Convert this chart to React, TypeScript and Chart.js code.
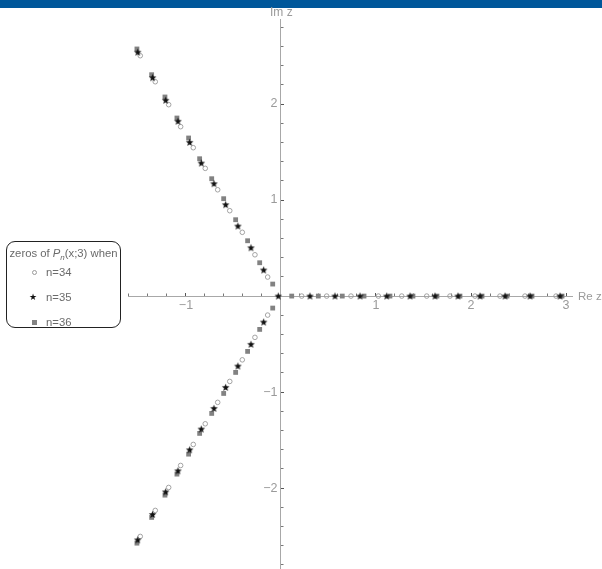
import React, { useEffect, useRef } from "react";
import { Chart, registerables } from "chart.js";

Chart.register(...registerables);

// ---------- data (complex zeros, in data units) ----------
// n = 34 (open circles)
const realZerosN34 = [0.218, 0.481, 0.737, 1.025, 1.271, 1.534, 1.779, 2.042, 2.305, 2.568, 2.895];
const upperReN34 = [-1.481, -1.323, -1.182, -1.056, -0.923, -0.797, -0.666, -0.539, -0.407, -0.274, -0.14];
const upperImN34 = [2.503, 2.232, 1.993, 1.764, 1.545, 1.33, 1.107, 0.889, 0.664, 0.43, 0.198];
const lowerReN34 = [-1.481, -1.323, -1.182, -1.056, -0.923, -0.797, -0.666, -0.539, -0.407, -0.274, -0.14];
const lowerImN34 = [-2.503, -2.232, -1.993, -1.764, -1.545, -1.33, -1.107, -0.889, -0.664, -0.43, -0.198];

// n = 35 (stars)
const realZerosN35 = [-0.028, 0.305, 0.568, 0.832, 1.113, 1.358, 1.621, 1.863, 2.095, 2.358, 2.621, 2.937];
const upperReN35 = [-1.508, -1.351, -1.214, -1.084, -0.961, -0.839, -0.705, -0.582, -0.453, -0.316, -0.182];
const upperImN35 = [2.539, 2.274, 2.039, 1.82, 1.601, 1.385, 1.17, 0.951, 0.729, 0.503, 0.271];
const lowerReN35 = [-1.508, -1.351, -1.214, -1.084, -0.961, -0.839, -0.705, -0.582, -0.453, -0.316, -0.182];
const lowerImN35 = [-2.539, -2.274, -2.039, -1.82, -1.601, -1.385, -1.17, -0.951, -0.729, -0.503, -0.271];

// n = 36 (filled squares)
const realZerosN36 = [0.113, 0.393, 0.645, 0.874, 1.147, 1.389, 1.642, 1.884, 2.116, 2.379, 2.642, 2.958];
const upperReN36 = [-1.516, -1.361, -1.221, -1.095, -0.972, -0.856, -0.729, -0.603, -0.477, -0.351, -0.224, -0.087];
const upperImN36 = [2.573, 2.305, 2.073, 1.854, 1.646, 1.43, 1.222, 1.014, 0.795, 0.576, 0.347, 0.125];
const lowerReN36 = [-1.516, -1.361, -1.221, -1.095, -0.972, -0.856, -0.729, -0.603, -0.477, -0.351, -0.224, -0.087];
const lowerImN36 = [-2.573, -2.305, -2.073, -1.854, -1.646, -1.43, -1.222, -1.014, -0.795, -0.576, -0.347, -0.125];

const seriesLabels = ["n=34", "n=35", "n=36"];
const legendTitle = "zeros of P_n(x;3) when";

// axis ranges
const X_MIN = -1.61;
const X_MAX = 3.063;
const Y_MIN = -2.84;
const Y_MAX = 2.88;
const MAJOR_STEP = 1;
const MINOR_STEP = 0.2;

const FONT = '"Liberation Sans", Arial, sans-serif';

function buildPoints(real: number[], uRe: number[], uIm: number[], lRe: number[], lIm: number[]) {
  const pts: { x: number; y: number }[] = [];
  real.forEach((x) => pts.push({ x, y: 0 }));
  uRe.forEach((x, i) => pts.push({ x, y: uIm[i] }));
  lRe.forEach((x, i) => pts.push({ x, y: lIm[i] }));
  return pts;
}

function makeStar(): HTMLCanvasElement {
  const c = document.createElement("canvas");
  c.width = 9;
  c.height = 9;
  const g = c.getContext("2d")!;
  g.fillStyle = "#111";
  g.beginPath();
  for (let i = 0; i < 10; i++) {
    const r = i % 2 === 0 ? 4.0 : 1.7;
    const a = -Math.PI / 2 + (i * Math.PI) / 5;
    const px = 4.5 + r * Math.cos(a);
    const py = 4.7 + r * Math.sin(a);
    if (i === 0) g.moveTo(px, py);
    else g.lineTo(px, py);
  }
  g.closePath();
  g.fill();
  return c;
}

const isInt = (v: number) => Math.abs(v - Math.round(v)) < 1e-6;
const fmt = (v: number) => (v < 0 ? "\u2212" + Math.abs(v) : String(v));

export default function App() {
  const ref = useRef<HTMLCanvasElement | null>(null);

  useEffect(() => {
    if (!ref.current) return;
    const star = makeStar();
    const transparent = "rgba(0,0,0,0)";
    const tickFont = { family: FONT, size: 12.5 };

    const chart = new Chart(ref.current, {
      type: "scatter",
      data: {
        datasets: [
          {
            label: seriesLabels[0],
            data: buildPoints(realZerosN34, upperReN34, upperImN34, lowerReN34, lowerImN34),
            pointStyle: "circle",
            pointRadius: 2.3,
            pointBackgroundColor: "rgba(255,255,255,0)",
            pointBorderColor: "#9a9a9a",
            pointBorderWidth: 0.9,
            order: 1,
            clip: false,
          },
          {
            label: seriesLabels[1],
            data: buildPoints(realZerosN35, upperReN35, upperImN35, lowerReN35, lowerImN35),
            pointStyle: star as any,
            pointRadius: 4,
            order: 0,
            clip: false,
          },
          {
            label: seriesLabels[2],
            data: buildPoints(realZerosN36, upperReN36, upperImN36, lowerReN36, lowerImN36),
            pointStyle: "rect",
            pointRadius: 3.4,
            pointBackgroundColor: "#828282",
            pointBorderWidth: 0,
            order: 2,
            clip: false,
          },
        ],
      },
      options: {
        animation: false,
        responsive: true,
        maintainAspectRatio: false,
        events: [],
        layout: { padding: { left: 128, right: 30, top: 19.5, bottom: 0 } },
        plugins: { legend: { display: false }, tooltip: { enabled: false } },
        scales: {
          x: {
            type: "linear",
            min: X_MIN,
            max: X_MAX,
            position: { y: 0 } as any,
            afterFit: (s: any) => {
              s.height = 0;
            },
            border: { display: true, color: "#a8a8a8", width: 1 },
            grid: {
              drawOnChartArea: false,
              drawTicks: true,
              tickLength: -4,
              tickWidth: 1,
              tickColor: (ctx: any) => (ctx.tick && ctx.tick.value === 0 ? transparent : "#555"),
            },
            ticks: {
              stepSize: MAJOR_STEP,
              includeBounds: false,
              autoSkip: false,
              maxRotation: 0,
              padding: 6,
              color: "#9a9a9a",
              font: tickFont,
              callback: (v: any) => (Number(v) === 0 ? "" : fmt(Number(v))),
            },
          },
          xMinor: {
            type: "linear",
            axis: "x",
            min: X_MIN,
            max: X_MAX,
            position: { y: 0 } as any,
            afterFit: (s: any) => {
              s.height = 0;
            },
            border: { display: false },
            grid: {
              drawOnChartArea: false,
              drawTicks: true,
              tickLength: -2.5,
              tickWidth: 1,
              tickColor: (ctx: any) => (ctx.tick && isInt(ctx.tick.value) ? transparent : "#777"),
            },
            ticks: {
              stepSize: MINOR_STEP,
              includeBounds: false,
              autoSkip: false,
              maxRotation: 0,
              callback: () => "",
            },
          } as any,
          y: {
            type: "linear",
            min: Y_MIN,
            max: Y_MAX,
            position: { x: 0 } as any,
            afterFit: (s: any) => {
              s.width = 0;
            },
            border: { display: true, color: "#a8a8a8", width: 1 },
            grid: {
              drawOnChartArea: false,
              drawTicks: true,
              tickLength: -4,
              tickWidth: 1,
              tickColor: (ctx: any) => (ctx.tick && ctx.tick.value === 0 ? transparent : "#555"),
            },
            ticks: {
              stepSize: MAJOR_STEP,
              includeBounds: false,
              autoSkip: false,
              padding: 0,
              color: "#9a9a9a",
              font: tickFont,
              callback: (v: any) => (Number(v) === 0 ? "" : fmt(Number(v)) + " "),
            },
          },
          yMinor: {
            type: "linear",
            axis: "y",
            min: Y_MIN,
            max: Y_MAX,
            position: { x: 0 } as any,
            afterFit: (s: any) => {
              s.width = 0;
            },
            border: { display: false },
            grid: {
              drawOnChartArea: false,
              drawTicks: true,
              tickLength: -2.5,
              tickWidth: 1,
              tickColor: (ctx: any) => (ctx.tick && isInt(ctx.tick.value) ? transparent : "#777"),
            },
            ticks: {
              stepSize: MINOR_STEP,
              includeBounds: false,
              autoSkip: false,
              callback: () => "",
            },
          } as any,
        },
      } as any,
    });
    return () => chart.destroy();
  }, []);

  const [titleA, titleRest] = legendTitle.split("P_n");

  const rowStyle = (top: number): React.CSSProperties => ({
    position: "absolute",
    left: 0,
    top: top - 7,
    height: 14,
    width: "100%",
  });
  const labelStyle: React.CSSProperties = {
    position: "absolute",
    left: 39,
    top: 0,
    lineHeight: "14px",
  };

  return (
    <div style={{ position: "fixed", left: 0, top: 0, width: 602, height: 569, background: "#fff", overflow: "hidden" }}>
      <div style={{ position: "absolute", left: 0, top: 0, width: 602, height: 579 }}>
        <canvas ref={ref} />
      </div>
      <div style={{ position: "absolute", left: 0, top: 0, width: 602, height: 7.5, background: "#00579a" }} />
      <div
        style={{
          position: "absolute",
          left: 578,
          top: 289,
          fontFamily: FONT,
          fontSize: 11.5,
          color: "#9a9a9a",
          lineHeight: "14px",
          whiteSpace: "nowrap",
        }}
      >
        Re z
      </div>
      <div
        style={{
          position: "absolute",
          left: 270,
          top: 5,
          fontFamily: FONT,
          fontSize: 12,
          color: "#9a9a9a",
          lineHeight: "14px",
          whiteSpace: "nowrap",
        }}
      >
        Im z
      </div>
      <div
        style={{
          position: "absolute",
          left: 6,
          top: 241,
          width: 115,
          height: 87,
          boxSizing: "border-box",
          border: "1px solid #222",
          borderRadius: 9,
          background: "#fff",
          fontFamily: FONT,
          fontSize: 11.3,
          color: "#6a6a6a",
        }}
      >
        <div
          style={{
            position: "absolute",
            left: 0,
            width: "100%",
            top: 4,
            textAlign: "center",
            whiteSpace: "nowrap",
            lineHeight: "14px",
          }}
        >
          {titleA}
          <i>P</i>
          <span style={{ fontSize: 8, position: "relative", top: 3 }}>
            <i>n</i>
          </span>
          {titleRest}
        </div>
        <div style={rowStyle(30)}>
          <span
            style={{
              position: "absolute",
              left: 24.5,
              top: 4.5,
              width: 3.4,
              height: 3.4,
              border: "0.9px solid #9a9a9a",
              borderRadius: "50%",
            }}
          />
          <span style={labelStyle}>{seriesLabels[0]}</span>
        </div>
        <div style={rowStyle(55)}>
          <span
            style={{
              position: "absolute",
              left: 22,
              top: 0,
              fontSize: 9,
              lineHeight: "14px",
              color: "#111",
            }}
          >
            ★
          </span>
          <span style={labelStyle}>{seriesLabels[1]}</span>
        </div>
        <div style={rowStyle(80)}>
          <span
            style={{
              position: "absolute",
              left: 24.5,
              top: 4.5,
              width: 5,
              height: 5,
              background: "#828282",
            }}
          />
          <span style={labelStyle}>{seriesLabels[2]}</span>
        </div>
      </div>
    </div>
  );
}
